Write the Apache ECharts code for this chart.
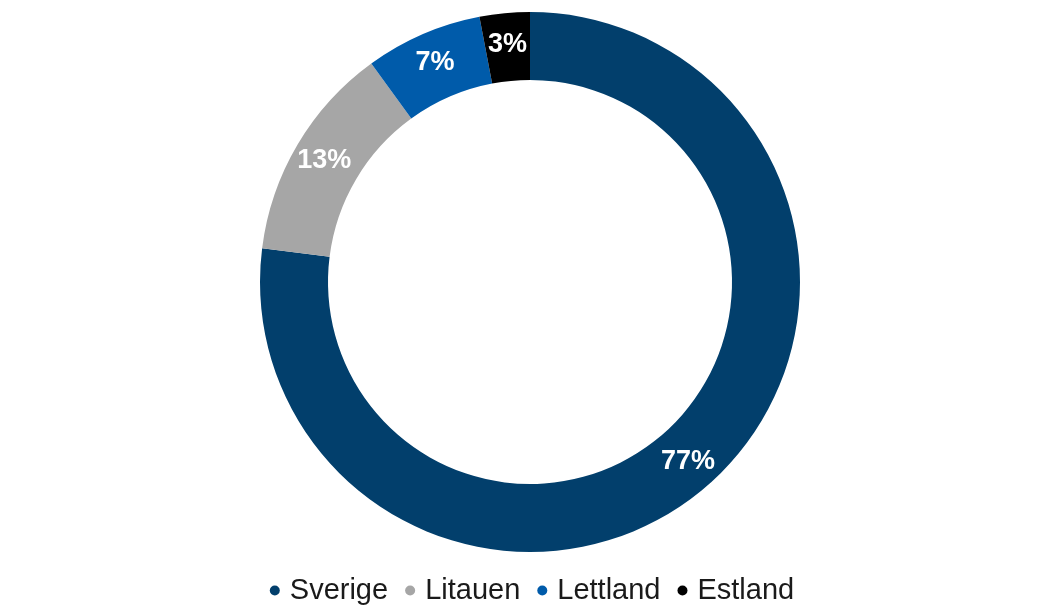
<!DOCTYPE html>
<html>
<head>
<meta charset="utf-8">
<script src="https://cdn.jsdelivr.net/npm/echarts@6/dist/echarts.min.js"></script>
<style>
html,body{margin:0;padding:0;background:#fff;}
#chart{width:1064px;height:613px;}
</style>
</head>
<body>
<div id="chart"></div>
<script>
const categories = ['Sverige', 'Litauen', 'Lettland', 'Estland'];
const values = [77, 13, 7, 3];
const colors = ['#023F6C', '#A6A6A6', '#005BAA', '#000000'];

const chart = echarts.init(document.getElementById('chart'), null, {renderer: 'canvas'});
chart.setOption({
  animation: false,
  color: colors,
  legend: {
    data: categories,
    bottom: 3,
    left: 'center',
    icon: 'circle',
    itemWidth: 10,
    itemHeight: 10,
    itemGap: 17,
    textStyle: {
      fontFamily: 'Liberation Sans, Arial, sans-serif',
      fontSize: 29,
      color: '#1a1a1a',
      padding: [0, 0, 0, 5]
    }
  },
  series: [{
    type: 'pie',
    center: [530, 282],
    radius: [202, 270],
    startAngle: 90,
    clockwise: true,
    avoidLabelOverlap: false,
    label: {
      show: true,
      position: 'inside',
      formatter: '{c}%',
      color: '#fff',
      fontFamily: 'Liberation Sans, Arial, sans-serif',
      fontWeight: 'bold',
      fontSize: 27
    },
    labelLine: {show: false},
    emphasis: {disabled: true},
    data: categories.map((c, i) => ({name: c, value: values[i]}))
  }]
});
</script>
</body>
</html>
